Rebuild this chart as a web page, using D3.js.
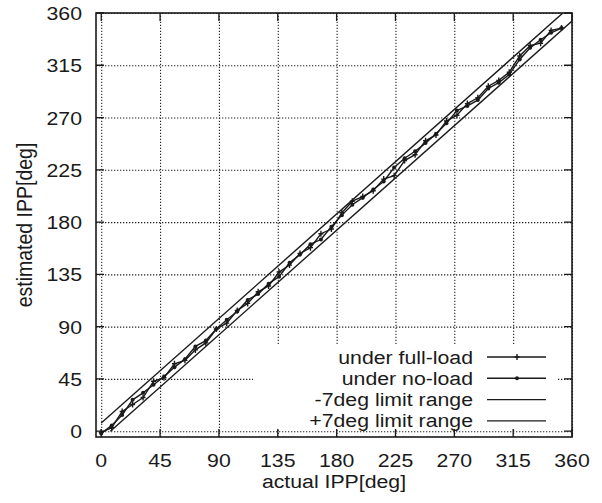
<!DOCTYPE html>
<html>
<head>
<meta charset="utf-8">
<script src="https://cdn.jsdelivr.net/npm/d3@7"></script>
<style>
    body { margin: 0; background: #fff; }
    text { font-family: "Liberation Sans", Arial, sans-serif; fill: #1a1a1a; }
</style>
</head>
<body>
<div id="chart"></div>
<script>
// data
var actualX = [0, 8, 16, 24, 32, 40, 48, 56, 64, 72, 80, 88, 96, 104, 112, 120, 128, 136, 144, 152, 160, 168, 176,
    184, 192, 200, 208, 216, 224, 232, 240, 248, 256, 264, 272, 280, 288, 296, 304, 312, 320, 328, 336, 344, 352];
var fullLoadY = [-1, 3, 17, 23, 29, 43, 46, 58, 61, 70, 76, 88, 93, 104, 110, 120, 125, 137, 143, 153, 158, 170, 174,
    188, 198, 202, 207, 217, 220, 233, 238, 250, 255, 267, 272, 282, 287, 297, 302, 309, 323, 332, 334, 345, 347];
var noLoadY = [-2, 5, 14, 27, 33, 40, 47, 55, 62, 73, 78, 88, 96, 103, 113, 118, 127, 133, 145, 152, 161, 165, 176,
    186, 195, 201, 208, 215, 227, 235, 241, 248, 256, 265, 276, 280, 285, 295, 300, 307, 320, 330, 337, 343, 347];
var minusLimitX = [7, 360];
var minusLimitY = [0, 353];
var plusLimitX = [0, 353];
var plusLimitY = [7, 360];
var tickValues = [0, 45, 90, 135, 180, 225, 270, 315, 360];
var legendNames = ["under full-load", "under no-load", "-7deg limit range", "+7deg limit range"];

var chart_width = 602;
var chart_height = 503;
var plotLeft = 96, plotRight = 572, plotTop = 13, plotBottom = 437;
var stretch = 1.12;
var ink = "#1a1a1a";

var x = d3.scaleLinear().domain([-4, 360]).range([plotLeft, plotRight]);
var y = d3.scaleLinear().domain([-5, 360]).range([plotBottom, plotTop]);

var svg = d3.select("#chart")
        .append("svg")
        .attr("width", chart_width)
        .attr("height", chart_height);

svg.append("defs").append("clipPath")
        .attr("id", "plot-clip")
        .append("rect")
        .attr("x", plotLeft).attr("y", plotTop)
        .attr("width", plotRight - plotLeft).attr("height", plotBottom - plotTop);

//Grid
svg.append("g")
        .attr("transform", "translate(0," + plotBottom + ")")
        .call(d3.axisBottom(x).tickValues(tickValues).tickSize(-(plotBottom - plotTop)).tickFormat(""))
        .call(function (g) {
            g.select(".domain").remove();
            g.selectAll("line").attr("stroke", "#222").attr("stroke-width", 1.1).attr("stroke-dasharray", "1.3,1.7");
        });
svg.append("g")
        .attr("transform", "translate(" + plotLeft + ",0)")
        .call(d3.axisLeft(y).tickValues(tickValues).tickSize(-(plotRight - plotLeft)).tickFormat(""))
        .call(function (g) {
            g.select(".domain").remove();
            g.selectAll("line").attr("stroke", "#222").attr("stroke-width", 1.1).attr("stroke-dasharray", "1.3,1.7");
        });

//Lines
var line = d3.line()
        .x(function (d) { return x(d[0]); })
        .y(function (d) { return y(d[1]); });
var plot = svg.append("g").attr("clip-path", "url(#plot-clip)");
var series = [
    {name: legendNames[0], pts: d3.zip(actualX, fullLoadY), marker: "plus"},
    {name: legendNames[1], pts: d3.zip(actualX, noLoadY), marker: "dot"},
    {name: legendNames[2], pts: d3.zip(minusLimitX, minusLimitY), marker: null},
    {name: legendNames[3], pts: d3.zip(plusLimitX, plusLimitY), marker: null}
];
series.forEach(function (s) {
    plot.append("path")
            .datum(s.pts)
            .attr("fill", "none")
            .attr("stroke", ink)
            .attr("stroke-width", 1.4)
            .attr("d", line);
    if (s.marker == "plus") {
        plot.selectAll(null).data(s.pts).enter().append("path")
                .attr("d", function (d) {
                    var px = x(d[0]), py = y(d[1]);
                    return "M" + (px - 2.5) + "," + py + "h5M" + px + "," + (py - 3) + "v6";
                })
                .attr("stroke", ink).attr("stroke-width", 1.4);
    } else if (s.marker == "dot") {
        plot.selectAll(null).data(s.pts).enter().append("circle")
                .attr("cx", function (d) { return x(d[0]); })
                .attr("cy", function (d) { return y(d[1]); })
                .attr("r", 2)
                .attr("fill", ink);
    }
});

//Legend
var legend = svg.append("g");
legend.append("rect")
        .attr("x", 253).attr("y", 345)
        .attr("width", 304).attr("height", 84)
        .attr("fill", "#fff");
series.forEach(function (s, i) {
    var rowY = 357 + i * 21.3;
    legend.append("text")
            .attr("transform", "translate(473," + (rowY + 6.5) + ") scale(" + stretch + ",1)")
            .attr("text-anchor", "end")
            .style("font-size", "19px")
            .text(s.name);
    legend.append("line")
            .attr("x1", 487).attr("x2", 546)
            .attr("y1", rowY).attr("y2", rowY)
            .attr("stroke", ink).attr("stroke-width", 1.4);
    if (s.marker == "plus") {
        legend.append("path")
                .attr("d", "M514.5," + rowY + "h5M517," + (rowY - 3) + "v6")
                .attr("stroke", ink).attr("stroke-width", 1.4);
    } else if (s.marker == "dot") {
        legend.append("circle")
                .attr("cx", 517).attr("cy", rowY).attr("r", 2).attr("fill", ink);
    }
});

//Frame and ticks
svg.append("rect")
        .attr("x", plotLeft).attr("y", plotTop)
        .attr("width", plotRight - plotLeft).attr("height", plotBottom - plotTop)
        .attr("fill", "none").attr("stroke", ink).attr("stroke-width", 1.6);
var tickLen = 8;
tickValues.forEach(function (v) {
    svg.append("path")
            .attr("d", "M" + x(v) + "," + plotBottom + "v" + (-tickLen) + "M" + x(v) + "," + plotTop + "v" + tickLen +
                    "M" + plotLeft + "," + y(v) + "h" + tickLen + "M" + plotRight + "," + y(v) + "h" + (-tickLen))
            .attr("stroke", ink).attr("stroke-width", 1.3);
    svg.append("text")
            .attr("transform", "translate(" + x(v) + ",467) scale(" + stretch + ",1)")
            .attr("text-anchor", "middle")
            .style("font-size", "19px")
            .text(v);
    svg.append("text")
            .attr("transform", "translate(82," + (y(v) + 7) + ") scale(" + stretch + ",1)")
            .attr("text-anchor", "end")
            .style("font-size", "19px")
            .text(v);
});

//Axis titles
svg.append("text")
        .attr("transform", "translate(" + ((plotLeft + plotRight) / 2) + ",488) scale(" + stretch + ",1)")
        .attr("text-anchor", "middle")
        .style("font-size", "19px")
        .text("actual IPP[deg]");
svg.append("text")
        .attr("transform", "translate(32," + ((plotTop + plotBottom) / 2) + ") rotate(-90) scale(1," + stretch + ")")
        .attr("text-anchor", "middle")
        .style("font-size", "19.5px")
        .text("estimated IPP[deg]");
</script>
</body>
</html>
